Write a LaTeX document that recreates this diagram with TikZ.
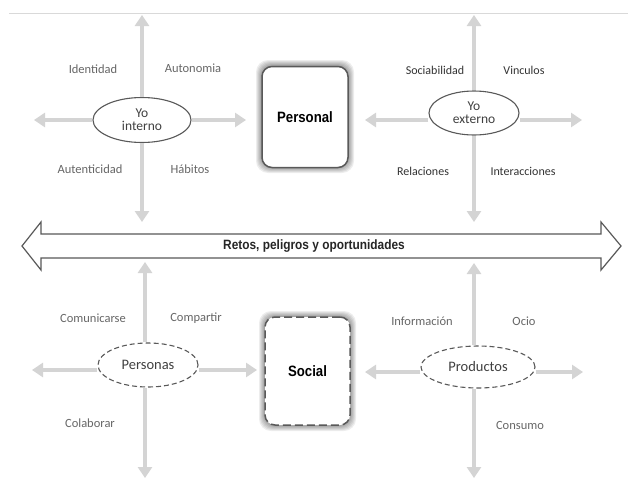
\documentclass[tikz,border=0pt]{standalone}
\usepackage{fontspec}
\setmainfont{Carlito}
\newfontfamily\boldf[FakeStretch=0.88]{Liberation Sans}
\usetikzlibrary{shapes.geometric,arrows.meta}
\begin{document}
\begin{tikzpicture}[x=1pt,y=-1pt,
  garrow/.style={draw=black!17, line width=3.8pt, -{Triangle[length=11pt,width=14pt]}},
  lbl/.style={text=black!60, font=\fontsize{12.5}{13}\selectfont},
  rlbl/.style={text=black!80, font=\fontsize{12}{13}\selectfont},
  yo/.style={ellipse, draw=black!65, line width=1.1pt, fill=white, inner sep=0pt, align=center, text=black!75, font=\fontsize{13.5}{13}\selectfont},
  yod/.style={yo, dashed, dash pattern=on 5pt off 3pt, font=\fontsize{14.5}{15}\selectfont},
  bigbox/.style={rectangle, rounded corners=10pt, draw=black!65, line width=1.5pt, fill=white, minimum width=86pt, minimum height=101pt, font=\boldf\bfseries\fontsize{15}{16}\selectfont},
  bigboxd/.style={bigbox, dash pattern=on 8pt off 4pt},
  glow/.style={rounded corners=12pt, fill=black, opacity=0.07}
]
\useasboundingbox (0,0) rectangle (628,479);
\fill[white] (0,0) rectangle (628,479);
\draw[black!15, line width=0.8pt] (9,13) -- (628,13);

% ---------- top left cross
\node[yo, minimum width=98pt, minimum height=45pt] (yi) at (142,120) {Yo\\interno};
\coordinate (yiT) at (142,15);
\coordinate (yiB) at (142,222);
\coordinate (yiL) at (34,120);
\coordinate (yiR) at (246,120);
\draw[garrow] (yi.north) -- (yiT);
\draw[garrow] (yi.south) -- (yiB);
\draw[garrow] (yi.west) -- (yiL);
\draw[garrow] (yi.east) -- (yiR);
\node[lbl] (l1) at (93,69) {Identidad};
\node[lbl] (l2) at (193,68) {Autonomia};
\node[lbl] (l3) at (90,169) {Autenticidad};
\node[lbl] (l4) at (190,169) {Hábitos};

% ---------- Personal box
\foreach \g in {1,2,...,6} {
  \fill[glow] (262-\g,66-\g) rectangle (348+\g,167+\g);
}
\node[bigbox] (pers) at (305,117) {Personal};

% ---------- top right cross
\node[yo, minimum width=90pt, minimum height=44pt] (ye) at (474,113) {Yo\\externo};
\coordinate (yeT) at (474,15);
\coordinate (yeB) at (474,222);
\coordinate (yeL) at (365,120);
\coordinate (yeR) at (582,120);
\draw[garrow] (ye.north) -- (yeT);
\draw[garrow] (ye.south) -- (yeB);
\draw[garrow] (ye.west |- yeL) -- (yeL);
\draw[garrow] (ye.east |- yeR) -- (yeR);
\node[rlbl] (r1) at (435,70) {Sociabilidad};
\node[rlbl] (r2) at (524,70) {Vinculos};
\node[rlbl] (r3) at (423,171) {Relaciones};
\node[rlbl] (r4) at (523,171) {Interacciones};

% ---------- big double arrow
\draw[black!65, line width=1.2pt, fill=white]
  (22,246) -- (41,222) -- (41,234) -- (601,234) -- (601,222) -- (621,246)
  -- (601,270) -- (601,258) -- (41,258) -- (41,270) -- cycle;
\node[font=\boldf\bfseries\fontsize{13.5}{14}\selectfont, text=black!85] (retos) at (314,246) {Retos, peligros y oportunidades};

% ---------- bottom left cross
\node[yod, minimum width=100pt, minimum height=44pt] (pe) at (148,365) {Personas};
\coordinate (peT) at (145,262);
\coordinate (peB) at (145,478);
\coordinate (peL) at (32,370);
\coordinate (peR) at (257,370);
\draw[garrow] (pe.north -| peT) -- (peT);
\draw[garrow] (pe.south -| peB) -- (peB);
\draw[garrow] (pe.west |- peL) -- (peL);
\draw[garrow] (pe.east |- peR) -- (peR);
\node[lbl] (b1) at (93,318) {Comunicarse};
\node[lbl] (b2) at (196,318) {Compartir};
\node[lbl] (b3) at (90,423) {Colaborar};

% ---------- Social box
\foreach \g in {1,2,...,6} {
  \fill[glow] (265-\g,317-\g) rectangle (350+\g,425+\g);
}
\node[bigboxd, minimum width=85pt, minimum height=108pt] (soc) at (307.5,371) {Social};

% ---------- bottom right cross
\node[yod, minimum width=114pt, minimum height=42pt] (pr) at (478,367) {Productos};
\coordinate (prT) at (474,263);
\coordinate (prB) at (474,478);
\coordinate (prL) at (365,372);
\coordinate (prR) at (583,372);
\draw[garrow] (pr.north -| prT) -- (prT);
\draw[garrow] (pr.south -| prB) -- (prB);
\draw[garrow] (pr.west |- prL) -- (prL);
\draw[garrow] (pr.east |- prR) -- (prR);
\node[lbl] (p1) at (422,321) {Información};
\node[lbl] (p2) at (524,321) {Ocio};
\node[lbl] (p3) at (520,425) {Consumo};
\end{tikzpicture}
\end{document}
